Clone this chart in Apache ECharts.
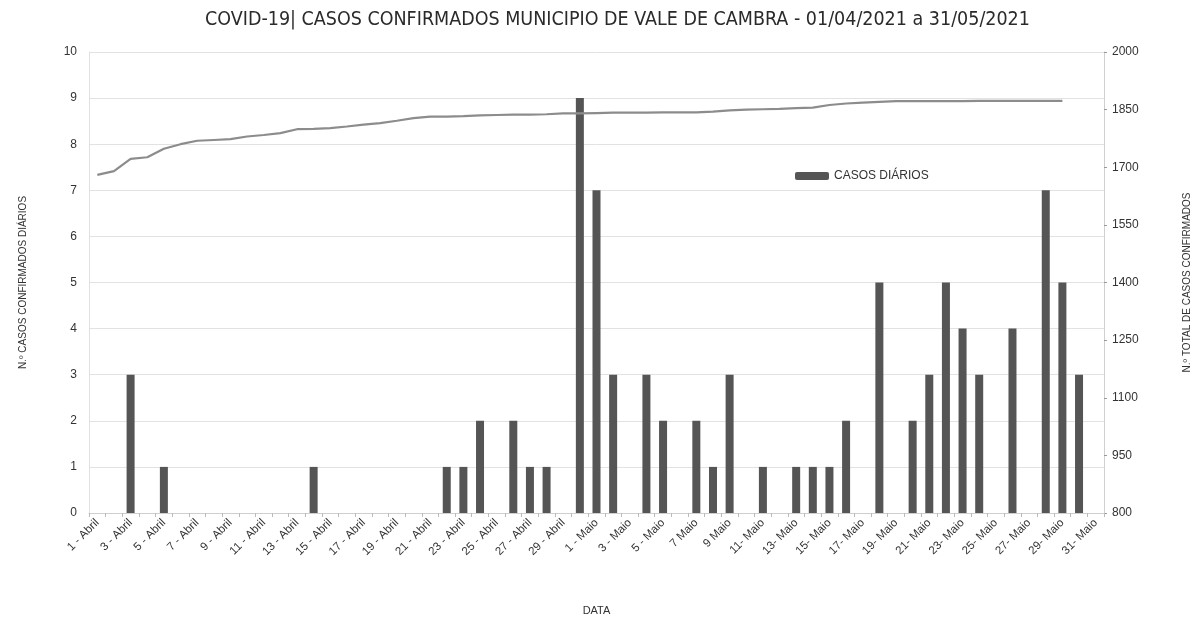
<!DOCTYPE html>
<html>
<head>
<meta charset="utf-8">
<script src="https://cdn.jsdelivr.net/npm/echarts@6/dist/echarts.min.js"></script>
<style>html,body{margin:0;padding:0;background:#fff;}#c{width:1200px;height:621px;}</style>
</head>
<body>
<div id="c"></div>
<script>
var categories = [
  "1 - Abril","2 - Abril","3 - Abril","4 - Abril","5 - Abril","6 - Abril","7 - Abril","8 - Abril","9 - Abril","10 - Abril",
  "11 - Abril","12 - Abril","13 - Abril","14 - Abril","15 - Abril","16 - Abril","17 - Abril","18 - Abril","19 - Abril","20 - Abril",
  "21 - Abril","22 - Abril","23 - Abril","24 - Abril","25 - Abril","26 - Abril","27 - Abril","28 - Abril","29 - Abril","30 - Abril",
  "1 - Maio","2 - Maio","3 - Maio","4 - Maio","5 - Maio","6 - Maio","7 Maio","8 Maio","9 Maio","10 Maio",
  "11- Maio","12- Maio","13- Maio","14- Maio","15- Maio","16- Maio","17- Maio","18- Maio","19- Maio","20- Maio",
  "21- Maio","22- Maio","23- Maio","24- Maio","25- Maio","26- Maio","27- Maio","28- Maio","29- Maio","30- Maio","31- Maio"
];
var casosDiarios = [
  0,0,3,0,1,0,0,0,0,0,
  0,0,0,1,0,0,0,0,0,0,
  0,1,1,2,0,2,1,1,0,9,
  7,3,0,3,2,0,2,1,3,0,
  1,0,1,1,1,2,0,5,0,2,
  3,5,4,3,0,4,0,7,5,3,0
];
var totalCasos = [
  1680,1690,1722,1726,1748,1760,1769,1771,1773,1780,
  1784,1789,1799,1800,1802,1806,1811,1815,1821,1828,
  1832,1832,1833,1835,1836,1837,1837,1838,1840,1840,
  1841,1842,1842,1842,1843,1843,1843,1845,1848,1850,
  1851,1852,1854,1855,1862,1866,1868,1870,1872,1872,
  1872,1872,1872,1873,1873,1873,1873,1873,1873,null,null
];
var chart = echarts.init(document.getElementById('c'));
var font = 'Liberation Sans';
chart.setOption({
  backgroundColor: '#ffffff',
  animation: false,
  title: {
    text: 'COVID-19| CASOS CONFIRMADOS MUNICIPIO DE VALE DE CAMBRA - 01/04/2021 a 31/05/2021',
    left: 200, top: 5,
    textStyle: {fontFamily: '"Liberation Sans Narrow", "DejaVu Sans Condensed", "Liberation Sans"', fontSize: 19.5, fontWeight: 'normal', color: '#2a2a2a'}
  },
  legend: {
    data: ['CASOS DIÁRIOS'],
    left: 790, top: 165,
    itemWidth: 34, itemHeight: 8, itemGap: 2,
    textStyle: {fontFamily: font, fontSize: 12, color: '#333'}
  },
  grid: {left: 89, right: 87, top: 52, bottom: 104},
  xAxis: {
    type: 'category',
    data: categories,
    name: 'DATA',
    nameLocation: 'middle',
    nameGap: 92,
    nameTextStyle: {fontFamily: font, fontSize: 11, color: '#333'},
    axisLine: {lineStyle: {color: '#cfcfcf'}},
    axisTick: {show: true, interval: 0, length: 4, lineStyle: {color: '#bbb'}},
    axisLabel: {interval: 1, rotate: 45, fontFamily: font, fontSize: 11.5, color: '#333', margin: 8}
  },
  yAxis: [{
    type: 'value', min: 0, max: 10, interval: 1,
    name: 'N.º CASOS CONFIRMADOS DIÁRIOS',
    nameLocation: 'middle', nameRotate: 90, nameGap: 61,
    nameTextStyle: {fontFamily: font, fontSize: 10, color: '#333'},
    axisLine: {show: true, lineStyle: {color: '#e0e0e0'}},
    axisTick: {show: false},
    axisLabel: {fontFamily: font, fontSize: 12, color: '#333', margin: 12},
    splitLine: {lineStyle: {color: '#e2e2e2'}}
  }, {
    type: 'value', min: 800, max: 2000, interval: 150,
    name: 'N.º TOTAL DE CASOS CONFIRMADOS',
    nameLocation: 'middle', nameRotate: 90, nameGap: 78,
    nameTextStyle: {fontFamily: font, fontSize: 10, color: '#333'},
    axisLine: {show: true, lineStyle: {color: '#d0d0d0'}},
    axisTick: {show: true, length: 3, lineStyle: {color: '#999'}},
    axisLabel: {fontFamily: font, fontSize: 12, color: '#333', margin: 8, formatter: function (v) { return String(v); }},
    splitLine: {show: false}
  }],
  series: [{
    name: 'CASOS DIÁRIOS',
    type: 'bar',
    yAxisIndex: 0,
    data: casosDiarios,
    barWidth: 8,
    itemStyle: {color: '#555555'}
  }, {
    name: 'TOTAL',
    type: 'line',
    yAxisIndex: 1,
    data: totalCasos,
    showSymbol: false,
    symbol: 'none',
    lineStyle: {color: '#8c8c8c', width: 2.2}
  }]
});
</script>
</body>
</html>
